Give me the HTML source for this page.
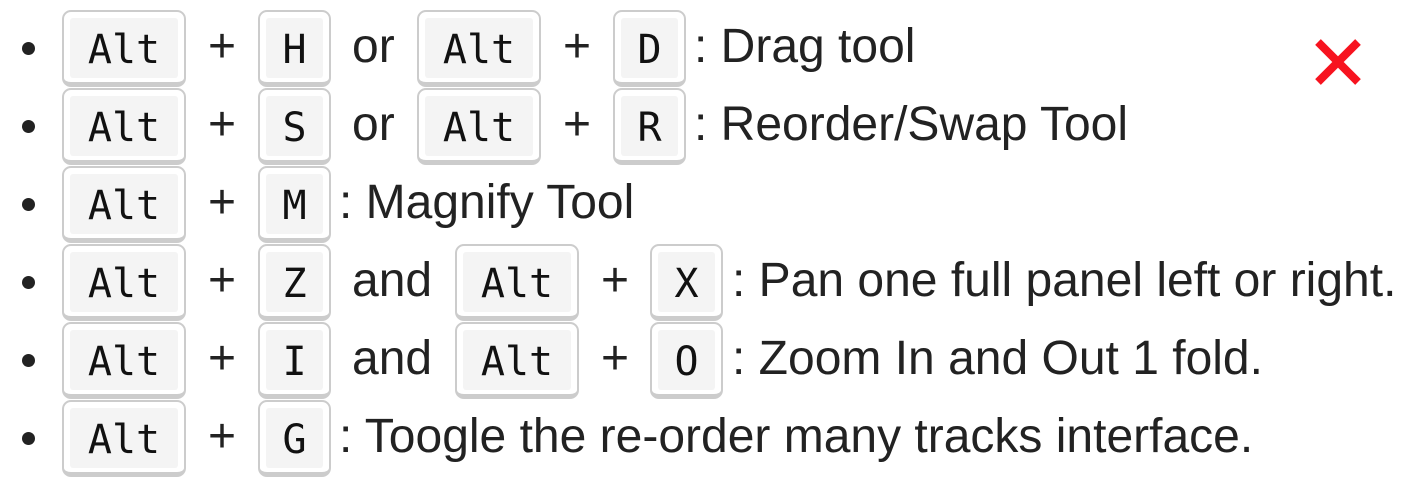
<!DOCTYPE html>
<html><head><meta charset="utf-8"><style>
body{margin:0;width:1401px;height:483px;background:#fff;position:relative;overflow:hidden;font-family:"Liberation Sans",Arial,sans-serif;color:#222;}
.k{position:absolute;box-sizing:border-box;height:77px;border:2px solid #ccc;border-bottom-width:5px;border-radius:9px;background:#fff;}
.k::before{content:"";position:absolute;left:6px;right:6px;top:6px;bottom:4px;background:#f4f4f4;border-radius:3px;}
.k span{position:absolute;left:0;right:0;top:16px;text-align:center;font:40px "DejaVu Sans Mono",monospace;color:#111;line-height:44px;}
.t{position:absolute;font-size:48px;line-height:54px;white-space:nowrap;color:#222;}
.b{position:absolute;width:13px;height:13px;border-radius:50%;background:#222;left:22px;}
</style></head><body>
<div class="b" style="top:42px"></div>
<div class="k" style="left:62px;top:10px;width:124px"><span>Alt</span></div>
<div class="t" style="left:208px;top:20px">+</div>
<div class="k" style="left:258px;top:10px;width:73px"><span>H</span></div>
<div class="t" style="left:352px;top:20px">or</div>
<div class="k" style="left:417px;top:10px;width:124px"><span>Alt</span></div>
<div class="t" style="left:563px;top:20px">+</div>
<div class="k" style="left:613px;top:10px;width:73px"><span>D</span></div>
<div class="t" style="left:694px;top:20px">: Drag tool</div>
<div class="b" style="top:120px"></div>
<div class="k" style="left:62px;top:88px;width:124px"><span>Alt</span></div>
<div class="t" style="left:208px;top:98px">+</div>
<div class="k" style="left:258px;top:88px;width:73px"><span>S</span></div>
<div class="t" style="left:352px;top:98px">or</div>
<div class="k" style="left:417px;top:88px;width:124px"><span>Alt</span></div>
<div class="t" style="left:563px;top:98px">+</div>
<div class="k" style="left:613px;top:88px;width:73px"><span>R</span></div>
<div class="t" style="left:694px;top:98px">: Reorder/Swap Tool</div>
<div class="b" style="top:198px"></div>
<div class="k" style="left:62px;top:166px;width:124px"><span>Alt</span></div>
<div class="t" style="left:208px;top:176px">+</div>
<div class="k" style="left:258px;top:166px;width:73px"><span>M</span></div>
<div class="t" style="left:339px;top:176px">: Magnify Tool</div>
<div class="b" style="top:276px"></div>
<div class="k" style="left:62px;top:244px;width:124px"><span>Alt</span></div>
<div class="t" style="left:208px;top:254px">+</div>
<div class="k" style="left:258px;top:244px;width:73px"><span>Z</span></div>
<div class="t" style="left:352px;top:254px">and</div>
<div class="k" style="left:455px;top:244px;width:124px"><span>Alt</span></div>
<div class="t" style="left:601px;top:254px">+</div>
<div class="k" style="left:650px;top:244px;width:73px"><span>X</span></div>
<div class="t" style="left:732px;top:254px">: Pan one full panel left or right.</div>
<div class="b" style="top:354px"></div>
<div class="k" style="left:62px;top:322px;width:124px"><span>Alt</span></div>
<div class="t" style="left:208px;top:332px">+</div>
<div class="k" style="left:258px;top:322px;width:73px"><span>I</span></div>
<div class="t" style="left:352px;top:332px">and</div>
<div class="k" style="left:455px;top:322px;width:124px"><span>Alt</span></div>
<div class="t" style="left:601px;top:332px">+</div>
<div class="k" style="left:650px;top:322px;width:73px"><span>O</span></div>
<div class="t" style="left:732px;top:332px">: Zoom In and Out 1 fold.</div>
<div class="b" style="top:432px"></div>
<div class="k" style="left:62px;top:400px;width:124px"><span>Alt</span></div>
<div class="t" style="left:208px;top:410px">+</div>
<div class="k" style="left:258px;top:400px;width:73px"><span>G</span></div>
<div class="t" style="left:339px;top:410px">: Toogle the re-order many tracks interface.</div>
<svg style="position:absolute;left:1310px;top:34px" width="56" height="56"><path d="M8 8L48 48M48 8L8 48" stroke="#f7131f" stroke-width="8"/></svg>
</body></html>
